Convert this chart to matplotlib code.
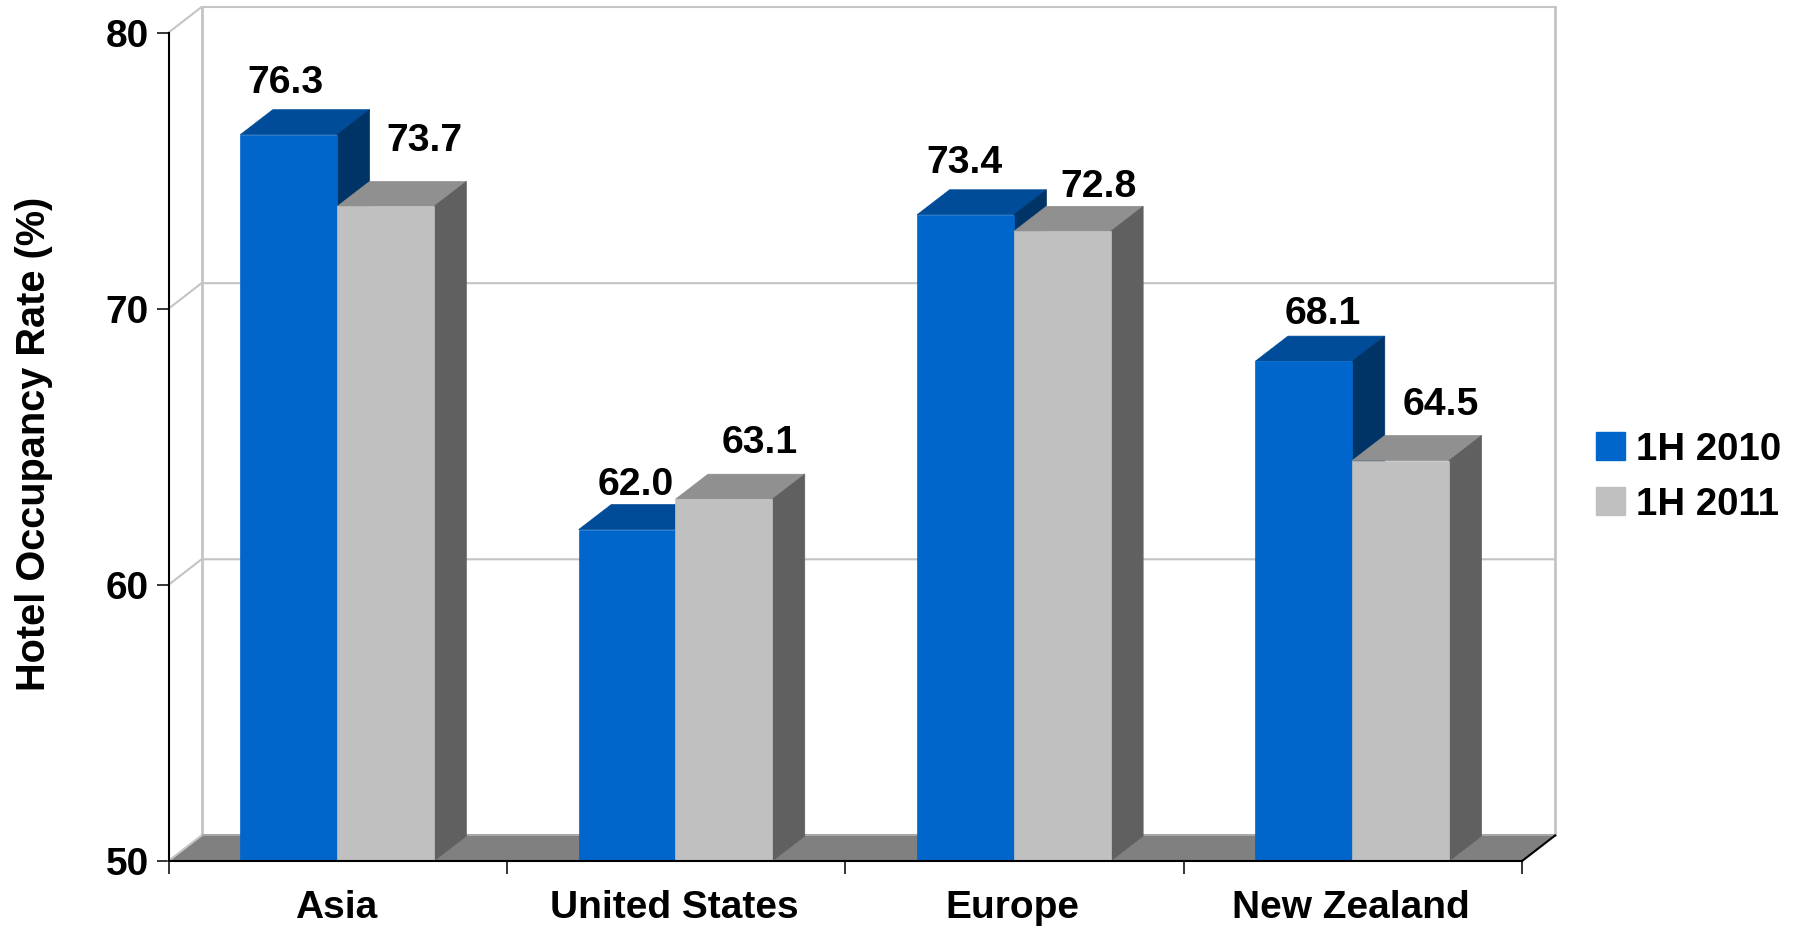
import matplotlib
matplotlib.use("Agg")
import matplotlib.pyplot as plt
from matplotlib.patches import Patch, Polygon

plt.rcParams["font.family"] = ["Liberation Sans", "DejaVu Sans"]
plt.rcParams["font.weight"] = "bold"

# Occupancy data
regions = ["Asia", "United States", "Europe", "New Zealand"]
occupancy_2010 = [76.3, 62.0, 73.4, 68.1]
occupancy_2011 = [73.7, 63.1, 72.8, 64.5]
y_ticks = [50, 60, 70, 80]

# Label offsets from the front top edge of each bar, in pixels
offsets_2010 = [(-3, 52), (9, 45), (-1, 52), (19, 48)]
offsets_2011 = [(39, 66), (36, 57), (36, 45), (40, 56)]

W, H = 1795, 929
fig = plt.figure(figsize=((W + 0.5) / 100, (H + 0.5) / 100), dpi=100)
ax = fig.add_axes([168.5 / W, 1 - 861 / H, (1521.7 - 168.5) / W, (861 - 33) / H])
ax.set_xlim(0, 4)
ax.set_ylim(50, 80)

# Depth of the fake 3D box in data units
dx = 33 / ((1521.7 - 168.5) / 4)
dy = 25.5 / ((861 - 33) / 30)
# Bars are a little shallower than the box
bar_dx = 32.5 / ((1521.7 - 168.5) / 4)
bar_dy = 25 / ((861 - 33) / 30)
bar_w = 0.286
FS = 28


def poly(points, color, z):
    ax.add_patch(Polygon(points, closed=True, facecolor=color, edgecolor=color,
                         linewidth=0.5, clip_on=False, zorder=z))


def bar3d(x, value, front, top, side, z):
    poly([(x, 50), (x + bar_w, 50), (x + bar_w, value), (x, value)], front, z + 0.2)
    poly([(x, value), (x + bar_w, value), (x + bar_w + bar_dx, value + bar_dy), (x + bar_dx, value + bar_dy)], top, z)
    poly([(x + bar_w, 50), (x + bar_w + bar_dx, 50 + bar_dy), (x + bar_w + bar_dx, value + bar_dy), (x + bar_w, value)], side, z + 0.1)


# Back wall and gridlines
wall = "#c4c4c4"
for v in y_ticks[1:]:
    ax.plot([0, dx, 4 + dx], [v, v + dy, v + dy], color=wall, lw=1.5, clip_on=False, zorder=1)
ax.plot([dx, dx], [50 + dy, 80 + dy], color=wall, lw=2, clip_on=False, zorder=1)
ax.plot([4 + dx, 4 + dx], [50 + dy, 80 + dy], color=wall, lw=2, clip_on=False, zorder=1)

# Floor
poly([(0, 50), (4, 50), (4 + dx, 50 + dy), (dx, 50 + dy)], "#808080", 2)
ax.plot([dx, 4 + dx], [50 + dy, 50 + dy], color="#a8a8a8", lw=1.5, clip_on=False, zorder=2.5)
ax.plot([0, dx], [50, 50 + dy], color=wall, lw=1.5, clip_on=False, zorder=2.5)
ax.plot([4, 4 + dx], [50, 50 + dy], color="black", lw=1.5, clip_on=False, zorder=2.5)

for i, region in enumerate(regions):
    c = i + 0.498
    bar3d(c - bar_w, occupancy_2010[i], "#0066cc", "#004c99", "#003366", 3)
    bar3d(c, occupancy_2011[i], "#c0c0c0", "#909090", "#606060", 4)
    ax.annotate(f"{occupancy_2010[i]:.1f}", (c - bar_w / 2, occupancy_2010[i]),
                xytext=offsets_2010[i], textcoords="offset pixels",
                ha="center", va="center", fontsize=FS + 0.3, zorder=6)
    ax.annotate(f"{occupancy_2011[i]:.1f}", (c + bar_w / 2, occupancy_2011[i]),
                xytext=offsets_2011[i], textcoords="offset pixels",
                ha="center", va="center", fontsize=FS + 0.3, zorder=6)

# Axis lines and ticks
for name in ["top", "right"]:
    ax.spines[name].set_visible(False)
for name in ["left", "bottom"]:
    ax.spines[name].set_linewidth(1.5)
    ax.spines[name].set_zorder(7)
ax.set_xticks(range(5))
ax.set_xticklabels([])
ax.set_yticks(y_ticks)
ax.tick_params(axis="both", length=9, width=1.1, labelsize=FS, pad=5)
for i, region in enumerate(regions):
    ax.annotate(region, (i + 0.5, 50), xytext=(-2, -47), textcoords="offset pixels",
                ha="center", va="center", fontsize=FS)
fig.text(34 / W, 1 - 444 / H, "Hotel Occupancy Rate (%)", rotation=90,
         ha="center", va="center", fontsize=FS + 0.6)

handles = [Patch(color="#0066cc"), Patch(color="#c0c0c0")]
fig.legend(handles, ["1H 2010", "1H 2011"], loc="center left",
           bbox_to_anchor=(1596 / W, 1 - 477 / H), bbox_transform=fig.transFigure,
           frameon=False, fontsize=FS - 0.4, handlelength=0.75, handleheight=0.75,
           handletextpad=0.27, labelspacing=0.5, borderpad=0, borderaxespad=0)

fig.savefig("out.png", dpi=100)
